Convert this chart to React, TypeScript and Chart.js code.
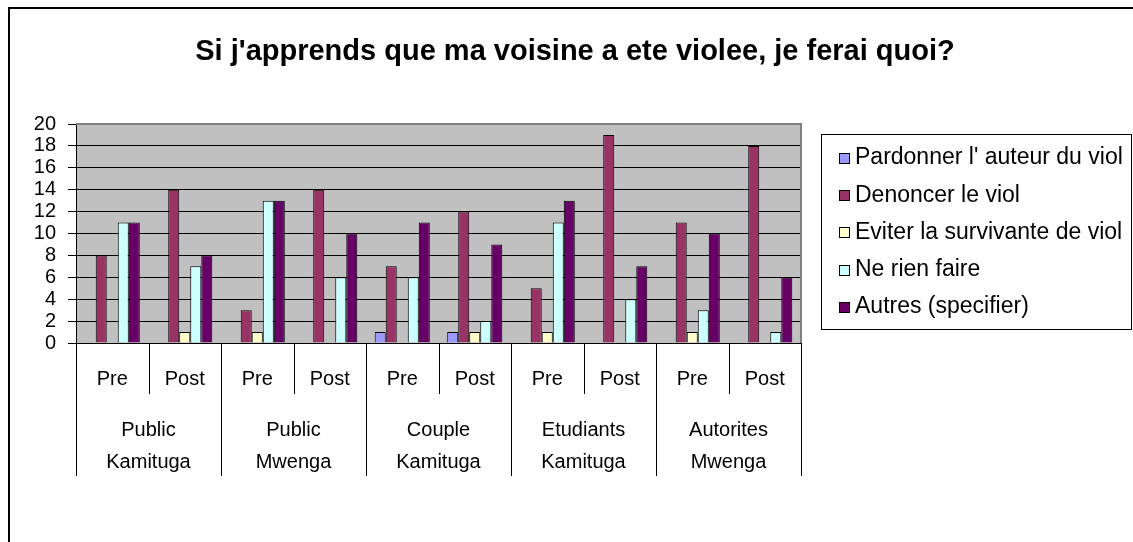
import React, { useEffect, useRef } from "react";
import { Chart, registerables } from "chart.js";

Chart.register(...registerables);

const titleText = "Si j'apprends que ma voisine a ete violee, je ferai quoi?";
const phases = ["Pre", "Post", "Pre", "Post", "Pre", "Post", "Pre", "Post", "Pre", "Post"];
const groupLine1 = ["Public", "Public", "Couple", "Etudiants", "Autorites"];
const groupLine2 = ["Kamituga", "Mwenga", "Kamituga", "Kamituga", "Mwenga"];
const seriesNames = [
  "Pardonner l' auteur du viol",
  "Denoncer le viol",
  "Eviter la survivante de viol",
  "Ne rien faire",
  "Autres (specifier)",
];
const pardonner = [0, 0, 0, 0, 1, 1, 0, 0, 0, 0];
const denoncer = [8, 14, 3, 14, 7, 12, 5, 19, 11, 18];
const eviter = [0, 1, 1, 0, 0, 1, 1, 0, 1, 0];
const neRien = [11, 7, 13, 6, 6, 2, 11, 4, 3, 1];
const autres = [11, 8, 13, 10, 11, 9, 13, 7, 10, 6];
const seriesColors = ["#9999FF", "#993366", "#FFFFCC", "#CCFFFF", "#660066"];
const yMin = 0;
const yMax = 20;
const yStep = 2;

const FONT = "'Liberation Sans', Arial, sans-serif";

const customPlugin = {
  id: "excelLook",
  beforeDraw(chart: any) {
    const { ctx, chartArea: a } = chart;
    ctx.save();
    ctx.fillStyle = "#ffffff";
    ctx.fillRect(0, 0, chart.width, chart.height);
    ctx.fillStyle = "#C0C0C0";
    ctx.fillRect(a.left, a.top, a.right - a.left, a.bottom - a.top);
    ctx.strokeStyle = "#000000";
    ctx.lineWidth = 2;
    ctx.strokeRect(9, 8, chart.width + 20, chart.height + 20);
    ctx.restore();
  },
  beforeDatasetsDraw(chart: any) {
    const { ctx, chartArea: a } = chart;
    ctx.save();
    ctx.strokeStyle = "#808080";
    ctx.lineWidth = 2;
    ctx.beginPath();
    ctx.moveTo(a.left, a.top);
    ctx.lineTo(a.right, a.top);
    ctx.lineTo(a.right, a.bottom);
    ctx.stroke();
    ctx.restore();
  },
  afterDraw(chart: any) {
    const { ctx, chartArea: a } = chart;
    const xs = chart.scales.x;
    ctx.save();
    // title
    ctx.fillStyle = "#000";
    ctx.font = `bold 29px ${FONT}`;
    ctx.textAlign = "center";
    ctx.textBaseline = "middle";
    ctx.fillText(titleText, 575, 52);

    // category separators
    const n = phases.length;
    const centers: number[] = [];
    for (let i = 0; i < n; i++) centers.push(xs.getPixelForTick(i));
    const half = (centers[1] - centers[0]) / 2;
    ctx.strokeStyle = "#000";
    ctx.lineWidth = 1;
    for (let k = 0; k <= n; k++) {
      const x = Math.round(k < n ? centers[k] - half : centers[n - 1] + half) + 0.5;
      const yEnd = k % 2 === 0 ? 476 : 394;
      ctx.beginPath();
      ctx.moveTo(x, a.bottom);
      ctx.lineTo(x, yEnd);
      ctx.stroke();
    }
    // labels
    ctx.font = `20px ${FONT}`;
    ctx.textAlign = "center";
    ctx.textBaseline = "middle";
    for (let i = 0; i < n; i++) ctx.fillText(phases[i], centers[i], 379);
    for (let g = 0; g < groupLine1.length; g++) {
      const cx = (centers[2 * g] + centers[2 * g + 1]) / 2;
      ctx.fillText(groupLine1[g], cx, 430);
      ctx.fillText(groupLine2[g], cx, 462);
    }

    // legend
    const lx = 821, ly = 134, lw = 310, lh = 195;
    ctx.fillStyle = "#fff";
    ctx.fillRect(lx, ly, lw, lh);
    ctx.strokeStyle = "#000";
    ctx.lineWidth = 1;
    ctx.strokeRect(lx + 0.5, ly + 0.5, lw, lh);
    ctx.font = `23px ${FONT}`;
    ctx.textAlign = "left";
    ctx.textBaseline = "middle";
    chart.data.datasets.forEach((ds: any, i: number) => {
      const cy = 158 + i * 37.2;
      ctx.fillStyle = ds.backgroundColor;
      ctx.fillRect(839, Math.round(cy - 5), 10, 10);
      ctx.strokeStyle = "#000";
      ctx.strokeRect(839.5, Math.round(cy - 5) + 0.5, 10, 10);
      ctx.fillStyle = "#000";
      ctx.fillText(ds.label, 855, cy);
    });
    ctx.restore();
  },
};

export default function App() {
  const ref = useRef<HTMLCanvasElement | null>(null);
  useEffect(() => {
    if (!ref.current) return;
    const values = [pardonner, denoncer, eviter, neRien, autres];
    const chart = new Chart(ref.current, {
      type: "bar",
      data: {
        labels: phases,
        datasets: seriesNames.map((name, i) => ({
          label: name,
          data: values[i],
          backgroundColor: seriesColors[i],
          borderColor: "#000000",
          borderWidth: 1,
          categoryPercentage: 0.76,
          barPercentage: 1,
        })),
      },
      options: {
        responsive: false,
        animation: false,
        devicePixelRatio: 1,
        layout: { padding: { left: 0, top: 124, right: 332, bottom: 64 } },
        plugins: { legend: { display: false }, title: { display: false }, tooltip: { enabled: false } },
        scales: {
          x: {
            ticks: { display: false },
            grid: { display: false },
            border: { display: true, color: "#000", width: 1 },
            afterFit: (s: any) => { s.height = 135; },
          },
          y: {
            min: yMin,
            max: yMax,
            ticks: { stepSize: yStep, autoSkip: false, color: "#000", font: { family: FONT, size: 20, lineHeight: 1 }, padding: 12 },
            grid: { color: "#000", lineWidth: 1, tickLength: 8, drawTicks: true },
            border: { display: true, color: "#000", width: 1 },
            afterFit: (s: any) => { s.width = 76; },
          },
        },
      },
      plugins: [customPlugin],
    } as any);
    return () => chart.destroy();
  }, []);
  return (
    <div style={{ position: "fixed", left: 0, top: 0, width: 1133, height: 542, background: "#fff" }}>
      <canvas ref={ref} width={1133} height={542} style={{ display: "block" }} />
    </div>
  );
}
